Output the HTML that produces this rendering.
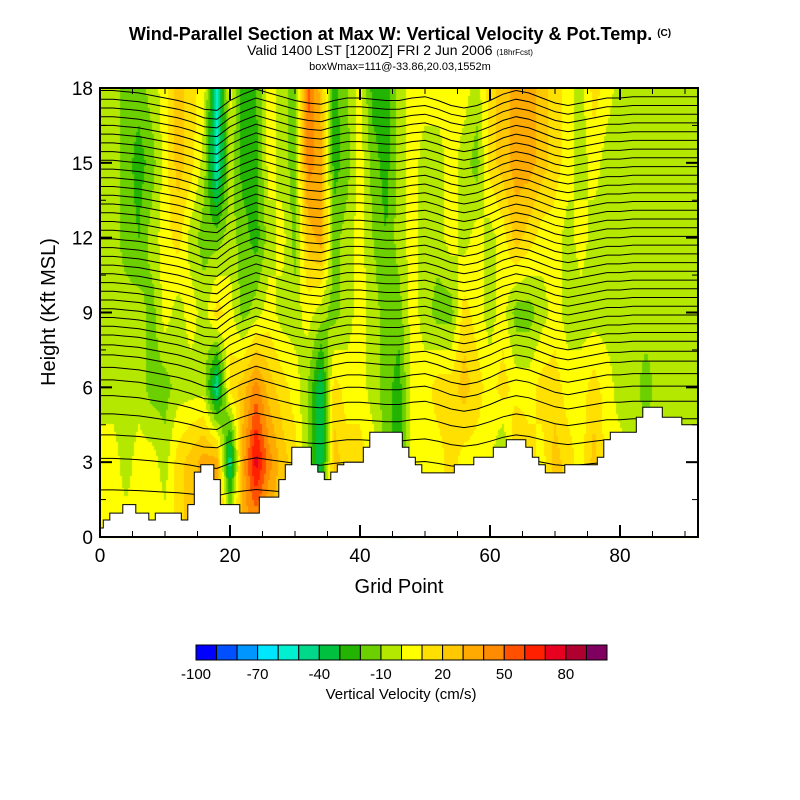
<!DOCTYPE html>
<html><head><meta charset="utf-8">
<style>
body{margin:0;background:#fff;}
#wrap{position:relative;width:800px;height:800px;overflow:hidden;font-family:"Liberation Sans",sans-serif;}
canvas{position:absolute;left:0;top:0;}
svg{position:absolute;left:0;top:0;}
</style></head>
<body>
<div id="wrap">
<canvas id="cv" width="800" height="800"></canvas>
<svg id="sv" width="800" height="800">
<defs><clipPath id="pc"><rect x="100" y="88" width="598" height="449"></rect></clipPath></defs>
<text x="400" y="40" text-anchor="middle" font-size="18" font-weight="bold">Wind-Parallel Section at Max W: Vertical Velocity &amp; Pot.Temp. <tspan font-size="10" dy="-4">(C)</tspan></text>
<text x="390" y="55" text-anchor="middle" font-size="14">Valid 1400 LST [1200Z] FRI 2 Jun 2006 <tspan font-size="8">(18hrFcst)</tspan></text>
<text x="400" y="70" text-anchor="middle" font-size="11">boxWmax=111@-33.86,20.03,1552m</text>
<g id="contours" clip-path="url(#pc)"></g>
<path id="terrain" fill="#fff" stroke="#000" stroke-width="1"></path>
<rect x="100" y="88" width="598" height="449" fill="none" stroke="#000" stroke-width="2"></rect>
<g id="axes"></g>
<text x="399" y="593" text-anchor="middle" font-size="20">Grid Point</text>
<text transform="translate(55,312) rotate(-90)" text-anchor="middle" font-size="20">Height (Kft MSL)</text>
<g id="cbar"></g>
<text x="401" y="699" text-anchor="middle" font-size="15">Vertical Velocity (cm/s)</text>
</svg>
</div>
<script>
// ---- data ----
const gridCols = [0,2,4,6,8,10,12,14,16,18,20,22,24,26,28,30,32,34,36,38,40,42,44,46,48,50,52,54,56,58,60,62,64,66,68,70,72,74,76,78,80,82,84,86,88,90,92];
const heightRows = [0,3,6,9,12,15,18];
// vertical velocity (cm/s), one array per height row, indexed by gridCols
const w0  = [5,5,5,5,5,5,15,25,25,35,15,35,35,25,15,15,5,5,15,15,15,5,-15,-25,5,5,5,15,5,5,5,-15,25,15,5,25,15,5,25,5,5,5,5,5,5,5,5];
const w3  = [5,5,-5,5,5,-5,15,25,35,35,-50,35,75,45,25,15,-10,-40,25,15,15,5,-15,-25,5,5,5,15,5,5,5,-15,25,15,5,25,15,5,25,5,5,-5,-5,-5,-5,-5,-5];
const w6  = [-5,-5,-5,-5,-15,-15,-5,-5,-5,-50,15,25,45,25,15,5,-10,-40,15,5,5,-5,-15,-25,5,5,15,15,25,15,5,15,5,5,15,15,5,5,15,5,-5,-5,-15,-5,-5,-5,-5];
const w9  = [-5,-5,-5,-5,-15,5,-5,5,-5,15,5,-15,-5,5,-5,-5,5,-5,-15,-5,5,-5,-15,-15,5,-5,-15,-15,15,5,-5,5,-15,-15,-5,5,-5,-5,-5,-5,-5,-5,-5,-5,-5,-5,-5];
const w12 = [-5,-5,-15,-20,-5,5,15,-5,-15,-15,-5,-15,-25,-5,5,-15,25,35,-15,-5,5,-10,-20,-5,5,-5,-5,5,-5,5,-5,5,25,15,5,5,-5,5,-5,-5,-5,-5,-5,-5,-5,-5,-5];
const w15 = [-5,-5,-15,-25,-15,5,25,15,-5,-55,-5,-25,-25,5,-5,-15,45,35,-25,-15,5,-15,-25,-5,5,-5,-5,5,-5,-15,15,25,35,35,25,15,5,-5,5,-5,-5,-5,-5,-5,-5,-5,-5];
const w18 = [-5,-5,-15,-15,-5,5,25,15,5,-55,5,-25,-20,5,-5,-15,55,25,-25,-10,5,-25,-25,-5,5,5,5,5,5,-5,15,25,35,35,25,15,5,-5,15,5,-5,-5,-5,-5,-5,-5,-5];
// terrain height (kft) per grid point 0..92
const terrain = [0.36,0.68,0.96,0.96,1.3,1.3,0.96,0.96,0.68,0.96,0.96,0.96,0.96,0.68,1.3,2.6,2.9,2.9,2.3,1.3,1.3,1.3,0.96,0.96,0.96,1.6,1.6,1.6,2.3,2.9,3.6,3.6,3.6,2.9,2.6,2.3,2.6,2.9,3.0,3.0,3.0,3.6,4.2,4.2,4.2,4.2,4.2,3.6,3.2,2.9,2.57,2.57,2.57,2.57,2.57,2.9,2.9,2.9,3.2,3.2,3.2,3.6,3.6,3.9,3.9,3.9,3.6,3.2,2.9,2.57,2.57,2.57,2.9,2.9,2.9,2.9,2.9,3.2,3.9,4.2,4.2,4.2,4.2,4.8,5.2,5.2,5.2,4.8,4.8,4.8,4.5,4.5,4.5];
// theta contour base heights (kft)
const thetaLevels = [1.8,3.0,3.9,4.7,5.4,6.0,6.5,7.0,7.4,7.8,8.15,8.5,8.85,9.2,9.55,9.9,10.25,10.6,10.95,11.3,11.65,12.0,12.35,12.7,13.05,13.4,13.75,14.1,14.45,14.8,15.15,15.5,15.85,16.2,16.55,16.9,17.25,17.6];
// contour displacement (kft) per gridCols
const thetaShift = [0.3,0.3,0.25,0.2,0.1,0,-0.1,-0.25,-0.45,-0.5,-0.1,0.15,0.35,0.2,0.05,-0.1,-0.2,-0.25,-0.1,0,0,-0.05,-0.1,-0.1,0,0.05,-0.1,-0.3,-0.4,-0.3,-0.1,0.15,0.3,0.2,0,-0.2,-0.3,-0.2,-0.1,0,0,0.05,0.05,0.05,0.05,0.05,0.05];
const cbarColors = ["#0000ff","#0050ff","#0096ff","#00e6ff","#00f0d0","#00d88a","#00c040","#22b400","#6cd000","#b4e800","#ffff00","#ffe000","#ffc800","#ffaa00","#ff8c00","#ff5000","#ff2000","#e80020","#b00030","#800060"];
const cbarTicks = [-100,-70,-40,-10,20,50,80];
const xTicks = [0,20,40,60,80];
const yTicks = [0,3,6,9,12,15,18];

// ---- axis functions ----
const X0=100,X1=698,Y0=537,Y1=88,XMAX=92,YMAX=18;
const xs = g => X0 + g*(X1-X0)/XMAX;
const ys = h => Y0 - h*(Y0-Y1)/YMAX;
const gx = px => (px-X0)*XMAX/(X1-X0);
const hy = py => (Y0-py)*YMAX/(Y0-Y1);
const rows=[w0,w3,w6,w9,w12,w15,w18];
function field(g,h){
  let ci=Math.min(gridCols.length-2,Math.max(0,Math.floor(g/2)));
  let tx=Math.min(1,Math.max(0,(g-gridCols[ci])/(gridCols[ci+1]-gridCols[ci])));
  let ri=Math.min(heightRows.length-2,Math.max(0,Math.floor(h/3)));
  let ty=Math.min(1,Math.max(0,(h-heightRows[ri])/(heightRows[ri+1]-heightRows[ri])));
  const a=rows[ri][ci]*(1-tx)+rows[ri][ci+1]*tx;
  const b=rows[ri+1][ci]*(1-tx)+rows[ri+1][ci+1]*tx;
  return a*(1-ty)+b*ty;
}
function color(v){let i=Math.floor((v+100)/10);i=Math.max(0,Math.min(19,i));return cbarColors[i];}

// ---- field ----
const ctx=document.getElementById('cv').getContext('2d');
const step=2;
for(let px=X0;px<X1;px+=step){
  for(let py=Y1;py<Y0;py+=step){
    ctx.fillStyle=color(field(gx(px+1),hy(py+1)));
    ctx.fillRect(px,py,step,step);
  }
}

const NS='http://www.w3.org/2000/svg';
function mk(tag,attrs,parent){const e=document.createElementNS(NS,tag);for(const k in attrs)e.setAttribute(k,attrs[k]);parent.appendChild(e);return e;}

// ---- contours ----
const cg=document.getElementById('contours');
thetaLevels.forEach((lev,li)=>{
  const scale=lev<6?lev/6:1;
  let d='';
  for(let i=0;i<gridCols.length;i++){
    const g=gridCols[i];
    const h=lev+thetaShift[i]*scale;
    d+=(i?'L':'M')+xs(g).toFixed(1)+' '+ys(h).toFixed(1);
  }
  const p=mk('path',{d:d,fill:'none',stroke:'#000','stroke-width':'1'},cg);
  
  
});

// ---- terrain ----
let td='M'+X0+' '+Y0;
terrain.forEach((h,g)=>{
  const xa=xs(Math.max(0,g-0.5)), xb=xs(Math.min(XMAX,g+0.5));
  td+='L'+xa.toFixed(1)+' '+ys(h).toFixed(1)+'L'+xb.toFixed(1)+' '+ys(h).toFixed(1);
});
td+='L'+X1+' '+Y0+'Z';
document.getElementById('terrain').setAttribute('d',td);

// ---- axes ----
const ax=document.getElementById('axes');
for(let g=0;g<=90;g+=5){
  const maj=g%20===0, L=maj?12:6;
  mk('line',{x1:xs(g),x2:xs(g),y1:Y0,y2:Y0-L,stroke:'#000','stroke-width':maj?2:1},ax);
  mk('line',{x1:xs(g),x2:xs(g),y1:Y1,y2:Y1+L,stroke:'#000','stroke-width':maj?2:1},ax);
}
for(let h=0;h<=18;h+=1.5){
  const maj=h%3===0, L=maj?12:6;
  mk('line',{x1:X0,x2:X0+L,y1:ys(h),y2:ys(h),stroke:'#000','stroke-width':maj?2:1},ax);
  mk('line',{x1:X1,x2:X1-L,y1:ys(h),y2:ys(h),stroke:'#000','stroke-width':maj?2:1},ax);
}
xTicks.forEach(t=>{
  const e=mk('text',{x:xs(t),y:562,'text-anchor':'middle','font-size':'19'},ax);
  e.textContent=t;
  
  
});
yTicks.forEach(t=>{
  const e=mk('text',{x:93,y:ys(t)+7,'text-anchor':'end','font-size':'19'},ax);
  e.textContent=t;
  
  
});

// ---- colorbar ----
const cb=document.getElementById('cbar');
const CB0=196,CBW=(607-196)/cbarColors.length;
const cbx=v=>CB0+(v+100)/10*CBW;
cbarColors.forEach((c,i)=>{
  const r=mk('rect',{x:CB0+i*CBW,y:645,width:CBW,height:15,fill:c,stroke:'#000','stroke-width':'1'},cb);
  
  
});
cbarTicks.forEach(t=>{
  const e=mk('text',{x:cbx(t),y:679,'text-anchor':'middle','font-size':'15'},cb);
  e.textContent=t;
  
  
});
</script>
</body></html>
